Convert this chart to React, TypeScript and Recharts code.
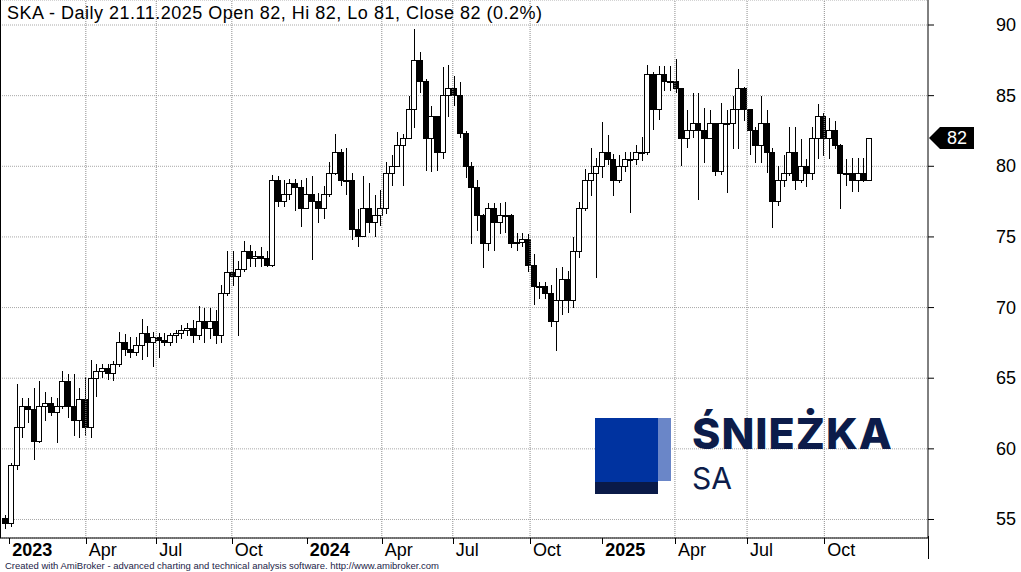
import React from "react";
import { ComposedChart, Bar, XAxis, YAxis, CartesianGrid, ReferenceLine } from "recharts";

// weekly OHLC (week 0 = last week of Dec 2022)
const weekOpen = [
  55.1, 54.7, 58.8, 61.5, 63.0, 62.8, 60.5, 63.0, 63.2, 62.6,
  63.0, 64.8, 63.0, 62.0, 63.5, 61.5, 65.0, 65.5, 65.7, 65.3,
  66.0, 67.5, 67.0, 66.8, 67.3, 68.2, 67.5, 67.9, 67.7, 67.5,
  68.0, 68.2, 68.4, 68.5, 68.0, 69.0, 68.5, 69.0, 68.0, 71.0,
  72.5, 72.2, 72.7, 74.0, 73.5, 73.6, 73.5, 73.0, 79.0, 77.5,
  78.0, 78.8, 78.5, 77.0, 78.0, 77.5, 77.0, 78.0, 79.5, 81.0,
  79.0, 79.0, 75.5, 75.0, 77.0, 76.0, 76.5, 77.0, 79.5, 80.0,
  81.5, 82.0, 84.0, 87.5, 86.0, 82.0, 83.5, 81.0, 85.0, 85.5,
  85.0, 82.3, 80.0, 78.5, 76.5, 74.5, 77.0, 76.0, 76.5, 76.5,
  74.5, 74.6, 74.8, 73.0, 71.5, 71.5, 71.0, 69.0, 70.5, 72.0,
  70.5, 74.0, 77.0, 79.0, 79.5, 80.0, 81.0, 80.5, 79.0, 80.0,
  80.5, 80.5, 81.0, 81.0, 86.5, 84.0, 86.5, 86.0, 86.0, 85.5,
  82.0, 82.5, 83.0, 82.5, 82.0, 83.0, 79.6, 83.0, 83.0, 84.0,
  85.5, 84.0, 82.5, 81.5, 83.0, 81.0, 77.5, 79.0, 79.5, 81.0,
  79.0, 80.0, 79.5, 82.0, 83.5, 82.0, 82.5, 81.5, 79.5, 79.5,
  79.0, 79.5, 79.0,
];
const weekHigh = [
  55.3, 59.0, 64.6, 63.6, 63.6, 64.3, 64.8, 64.0, 63.7, 63.6,
  65.5, 65.3, 65.3, 64.3, 65.1, 66.3, 66.0, 66.0, 66.0, 66.2,
  68.3, 68.1, 67.9, 67.9, 69.2, 68.7, 68.3, 68.2, 68.2, 68.2,
  68.4, 68.8, 68.9, 69.1, 70.1, 70.0, 70.0, 69.8, 71.6, 74.0,
  74.0, 73.3, 74.7, 74.4, 74.0, 74.3, 74.0, 79.4, 79.3, 79.0,
  79.1, 79.1, 79.0, 79.2, 79.3, 78.1, 78.6, 80.3, 82.3, 81.2,
  81.3, 79.5, 77.0, 79.3, 78.8, 78.0, 78.3, 80.3, 80.8, 82.4,
  82.3, 85.0, 89.7, 88.1, 86.2, 84.3, 83.5, 87.0, 87.2, 86.4,
  86.0, 82.5, 80.3, 79.0, 76.6, 77.4, 77.4, 77.4, 77.5, 76.6,
  75.3, 75.3, 75.2, 73.8, 71.8, 71.8, 71.6, 72.8, 72.9, 72.6,
  75.0, 77.5, 79.8, 81.3, 80.6, 83.1, 82.2, 80.9, 80.8, 81.0,
  81.0, 81.5, 82.1, 87.2, 86.7, 87.1, 87.1, 87.1, 87.6, 85.5,
  84.0, 85.2, 85.2, 84.1, 84.0, 83.0, 84.5, 84.0, 85.0, 86.9,
  85.6, 84.0, 82.8, 85.0, 84.0, 81.3, 80.0, 80.8, 82.8, 82.8,
  81.9, 80.5, 82.8, 84.4, 83.8, 83.4, 83.2, 81.6, 80.5, 80.6,
  80.6, 80.6, 82.0,
];
const weekLow = [
  54.3, 54.5, 58.5, 60.8, 61.8, 59.2, 60.4, 62.0, 62.3, 60.4,
  62.8, 62.2, 60.9, 60.8, 60.9, 60.8, 63.7, 65.0, 64.9, 64.8,
  65.8, 66.6, 66.4, 66.6, 66.3, 66.5, 65.8, 66.4, 67.3, 67.3,
  67.5, 67.8, 68.0, 67.5, 67.7, 67.5, 67.8, 67.4, 67.5, 70.8,
  71.5, 68.0, 72.5, 72.9, 72.9, 72.9, 72.9, 72.9, 77.1, 77.1,
  77.6, 76.8, 75.7, 77.0, 73.4, 76.0, 76.3, 77.8, 79.4, 78.6,
  78.0, 74.8, 74.3, 75.0, 75.3, 75.0, 75.8, 76.6, 78.6, 80.0,
  78.6, 82.0, 82.7, 85.2, 79.7, 79.6, 79.7, 80.5, 83.5, 84.3,
  82.0, 79.2, 74.5, 75.4, 72.8, 74.0, 74.0, 75.2, 75.3, 74.2,
  74.0, 74.3, 72.5, 70.2, 70.6, 70.6, 68.6, 66.9, 69.5, 69.6,
  70.0, 73.5, 76.8, 77.9, 72.1, 79.2, 80.1, 77.9, 78.8, 79.6,
  76.7, 80.1, 80.4, 80.8, 82.6, 83.3, 85.3, 85.3, 85.2, 80.0,
  81.3, 82.0, 77.6, 80.2, 82.0, 79.3, 79.4, 78.1, 81.2, 81.2,
  83.2, 80.8, 80.2, 80.2, 79.5, 75.6, 77.2, 78.5, 79.3, 78.3,
  78.8, 78.5, 79.0, 80.5, 80.7, 80.5, 81.2, 77.0, 78.6, 78.2,
  78.2, 78.9, 79.0,
];
const weekClose = [
  54.7, 58.8, 61.5, 63.0, 62.8, 60.5, 63.0, 63.2, 62.6, 63.0,
  64.8, 63.0, 62.0, 63.5, 61.5, 65.0, 65.5, 65.7, 65.3, 66.0,
  67.5, 67.0, 66.8, 67.3, 68.2, 67.5, 67.9, 67.7, 67.5, 68.0,
  68.2, 68.4, 68.5, 68.0, 69.0, 68.5, 69.0, 68.0, 71.0, 72.5,
  72.2, 72.7, 74.0, 73.5, 73.6, 73.5, 73.0, 79.0, 77.5, 78.0,
  78.8, 78.5, 77.0, 78.0, 77.5, 77.0, 78.0, 79.5, 81.0, 79.0,
  79.0, 75.5, 75.0, 77.0, 76.0, 76.5, 77.0, 79.5, 80.0, 81.5,
  82.0, 84.0, 87.5, 86.0, 82.0, 83.5, 81.0, 85.0, 85.5, 85.0,
  82.3, 80.0, 78.5, 76.5, 74.5, 77.0, 76.0, 76.5, 76.5, 74.5,
  74.6, 74.8, 73.0, 71.5, 71.5, 71.0, 69.0, 70.5, 72.0, 70.5,
  74.0, 77.0, 79.0, 79.5, 80.0, 81.0, 80.5, 79.0, 80.0, 80.5,
  80.5, 81.0, 81.0, 86.5, 84.0, 86.5, 86.0, 86.0, 85.5, 82.0,
  82.5, 83.0, 82.5, 82.0, 83.0, 79.6, 83.0, 83.0, 84.0, 85.5,
  84.0, 82.5, 81.5, 83.0, 81.0, 77.5, 79.0, 79.5, 81.0, 79.0,
  80.0, 79.5, 82.0, 83.5, 82.0, 82.5, 81.5, 79.5, 79.5, 79.0,
  79.5, 79.0, 82.0,
];

// month starts, in week units
const monthTicks = [0.6, 14.1, 26.5, 39.8, 53.0, 66.2, 78.7, 92.3, 105.0, 117.8, 130.5, 144.1];
const monthLabels = ["2023", "Apr", "Jul", "Oct", "2024", "Apr", "Jul", "Oct", "2025", "Apr", "Jul", "Oct"];
const priceTicks = [55, 60, 65, 70, 75, 80, 85, 90];
const lastClose = 82;

const FONT = '"Liberation Sans", Arial, sans-serif';

const data = weekClose.map((c, i) => ({
  week: i,
  open: weekOpen[i],
  high: weekHigh[i],
  low: weekLow[i],
  close: c,
}));

function Candle(props: any) {
  const { x, y, width, height, payload } = props;
  const { open, high, low, close } = payload;
  const ppu = height / (high - low);
  const py = (v: number) => y + (high - v) * ppu;
  const cx = Math.round(x + width / 2);
  const top = py(Math.max(open, close));
  const bot = py(Math.min(open, close));
  const up = close >= open;
  return (
    <g shapeRendering="crispEdges">
      <line x1={cx + 0.5} x2={cx + 0.5} y1={y} y2={y + height} stroke="#000" />
      <rect
        x={cx - 2.5}
        y={top}
        width={5}
        height={Math.max(bot - top, 1)}
        fill={up ? "#fff" : "#000"}
        stroke="#000"
      />
    </g>
  );
}

function MonthTick(props: any) {
  const { x, y, index } = props;
  const label = monthLabels[index];
  const isYear = /^\d{4}$/.test(label);
  const px = Math.round(x) + 0.5;
  return (
    <g>
      <line x1={px} x2={px} y1={y} y2={y + 6} stroke="#000" shapeRendering="crispEdges" />
      <text
        x={x + 3}
        y={y + 18}
        fontSize={18}
        fontWeight={isYear ? "bold" : "normal"}
        fontFamily={FONT}
        fill="#000"
      >
        {label}
      </text>
    </g>
  );
}

function PriceTick(props: any) {
  const { x, y, payload } = props;
  return (
    <text x={x} y={y + 6} textAnchor="end" fontSize={18} fontFamily={FONT} fill="#000">
      {payload.value}
    </text>
  );
}

function PriceFlag(props: any) {
  const { viewBox } = props;
  if (!viewBox) return null;
  const ax = viewBox.x + viewBox.width + 1;
  const cy = viewBox.y;
  const pts = `${ax},${cy} ${ax + 11},${cy - 11} ${ax + 45},${cy - 11} ${ax + 45},${cy + 11} ${ax + 11},${cy + 11}`;
  return (
    <g>
      <polygon points={pts} fill="#000" />
      <text x={ax + 28} y={cy + 6} textAnchor="middle" fontSize={18} fontFamily={FONT} fill="#fff">
        {lastClose}
      </text>
    </g>
  );
}

export default function App() {
  return (
    <div style={{ position: "relative", width: 1021, height: 572, background: "#fff" }}>
      <style>{"body{margin:0}"}</style>
      <ComposedChart width={1021} height={572} data={data} margin={{ top: 0, right: 0, bottom: 0, left: 0 }}>
        <CartesianGrid vertical={false} stroke="#a8a8a8" strokeDasharray="1 1" />
        {monthTicks.map((t, i) =>
          /^\d{4}$/.test(monthLabels[i]) ? null : (
            <ReferenceLine key={i} x={t} stroke="#8c8c8c" strokeDasharray="1 1" />
          )
        )}
        <XAxis
          dataKey="week"
          type="number"
          domain={[-1.01, 162.35]}
          allowDataOverflow
          ticks={monthTicks}
          interval={0}
          tick={<MonthTick />}
          tickLine={false}
          tickSize={0}
          tickMargin={0}
          height={34}
          axisLine={{ stroke: "#000" }}
        />
        <YAxis
          orientation="right"
          type="number"
          domain={[53.69, 91.77]}
          allowDataOverflow
          ticks={priceTicks}
          interval={0}
          width={93}
          tickSize={6}
          tickMargin={82}
          tick={<PriceTick />}
          tickLine={{ stroke: "#000" }}
          axisLine={{ stroke: "#000" }}
        />
        <ReferenceLine y={lastClose} stroke="none" label={(p: any) => <PriceFlag {...p} />} />
        <Bar
          dataKey={(d: any) => [d.low, d.high]}
          barSize={5}
          shape={(p: any) => <Candle {...p} />}
          isAnimationActive={false}
        />
      </ComposedChart>
      <svg
        width={1021}
        height={572}
        style={{ position: "absolute", left: 0, top: 0, pointerEvents: "none" }}
      >
        <line x1={0.5} x2={0.5} y1={0} y2={538} stroke="#000" />
        <line x1={928.5} x2={928.5} y1={536} y2={559} stroke="#000" />
        <text x={7} y={18.5} fontSize={18} letterSpacing={0.5} fontFamily={FONT} fill="#000">
          SKA - Daily 21.11.2025 Open 82, Hi 82, Lo 81, Close 82 (0.2%)
        </text>
        <text x={5} y={569} fontSize={9.5} fontFamily={FONT} fill="#1c2448">
          Created with AmiBroker - advanced charting and technical analysis software. http://www.amibroker.com
        </text>
        <rect x={595} y={418} width={63} height={64} fill="#0033a0" />
        <rect x={658} y={418} width={13} height={63} fill="#6a86c8" />
        <rect x={595} y={482} width={63} height={12} fill="#0a1a48" />
        <text x={692} y={449} fontSize={43} fontWeight={800} letterSpacing={1} fontFamily="Inter, sans-serif" fill="#0c1c4a">
          ŚNIEŻKA
        </text>
        <text x={692} y={489} fontSize={30} fontWeight={400} fontFamily="Inter, sans-serif" fill="#0c1c4a">
          SA
        </text>
      </svg>
    </div>
  );
}
